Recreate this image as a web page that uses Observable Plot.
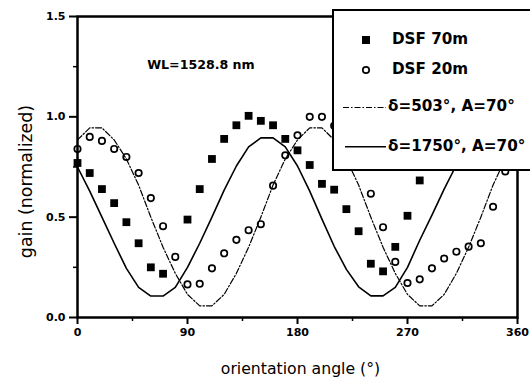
<!DOCTYPE html>
<html>
<head>
<meta charset="utf-8">
<script src="https://cdn.jsdelivr.net/npm/d3@7"></script>
<script src="https://cdn.jsdelivr.net/npm/@observablehq/plot@0.6"></script>
<style>
  body { margin: 0; background: #fff; }
  svg { display: block; }
</style>
</head>
<body>
<div id="chart"></div>
<script>
// ---- data ----
const angles70 = [0,10,20,30,40,50,60,70,90,100,110,120,130,140,150,160,170,180,190,200,210,220,230,240,250,260,270,280];
const dsf70    = [0.77,0.72,0.64,0.57,0.475,0.37,0.25,0.218,0.488,0.64,0.79,0.89,0.958,1.005,0.98,0.958,0.89,0.833,0.76,0.666,0.637,0.54,0.43,0.268,0.23,0.352,0.507,0.683];

const angles20 = [0,10,20,30,40,50,60,70,80,90,100,110,120,130,140,150,160,170,180,190,200,210,240,250,260,270,280,290,300,310,320,330,340,350];
const dsf20    = [0.84,0.90,0.88,0.84,0.80,0.72,0.595,0.455,0.302,0.165,0.168,0.245,0.32,0.387,0.435,0.465,0.657,0.808,0.908,1.0,1.0,0.955,0.617,0.45,0.277,0.172,0.19,0.245,0.294,0.328,0.353,0.37,0.552,0.728];

const curveAngles = [0,10,20,30,40,50,60,70,80,90,100,110,120,130,140,150,160,170,180,190,200,210,220,230,240,250,260,270,280,290,300,310,320,330,340,350,360];
const delta503  = [0.885,0.945,0.945,0.885,0.79,0.66,0.5,0.35,0.22,0.115,0.058,0.058,0.115,0.22,0.35,0.5,0.66,0.79,0.885,0.945,0.945,0.885,0.79,0.66,0.5,0.35,0.22,0.115,0.058,0.058,0.115,0.22,0.35,0.5,0.66,0.79,0.885];
const delta1750 = [0.75,0.63,0.50,0.37,0.245,0.15,0.107,0.107,0.15,0.25,0.37,0.50,0.635,0.755,0.85,0.895,0.895,0.85,0.755,0.63,0.49,0.355,0.24,0.153,0.108,0.108,0.15,0.25,0.385,0.51,0.64,0.76];

const xTicks = [0, 90, 180, 270, 360];
const xMinorTicks = [45, 135, 225, 315];
const yTicks = [0, 0.5, 1.0, 1.5];
const yMinorTicks = [0.25, 0.75, 1.25];

const legendLabels = ["DSF 70m", "DSF 20m", "\u03b4=503\u00b0, A=70\u00b0", "\u03b4=1750\u00b0, A=70\u00b0"];
const annotation = "WL=1528.8 nm";
const xLabel = "orientation angle (\u00b0)";
const yLabel = "gain (normalized)";

// ---- tables ----
const rows70 = angles70.map((a, i) => ({angle: a, gain: dsf70[i]}));
const rows20 = angles20.map((a, i) => ({angle: a, gain: dsf20[i]}));
const rows503 = curveAngles.map((a, i) => ({angle: a, gain: delta503[i]}));
const rows1750 = delta1750.map((g, i) => ({angle: curveAngles[i], gain: g}));

const dashDot = "6,2,1.5,2";

const plot = Plot.plot({
  width: 530,
  height: 377,
  marginLeft: 77,
  marginRight: 13,
  marginTop: 16,
  marginBottom: 60,
  x: {domain: [0, 360]},
  y: {domain: [0, 1.5]},
  style: {fontFamily: "DejaVu Sans", background: "white", color: "black", overflow: "visible"},
  marks: [
    Plot.line(rows503, {x: "angle", y: "gain", stroke: "black", strokeWidth: 1.2, strokeDasharray: dashDot}),
    Plot.line(rows1750, {x: "angle", y: "gain", stroke: "black", strokeWidth: 1.6}),
    Plot.dot(rows70, {x: "angle", y: "gain", symbol: "square", r: 4.4, fill: "black", stroke: "none"}),
    Plot.dot(rows20, {x: "angle", y: "gain", symbol: "circle", r: 3.2, fill: "none", stroke: "black", strokeWidth: 1.7}),
    Plot.frame({stroke: "black", strokeWidth: 2.5}),
    Plot.axisX(xTicks, {tickSize: 7, tickPadding: 4, strokeWidth: 2, fontSize: 11, fontWeight: "bold", label: null}),
    Plot.axisX(xMinorTicks, {tickSize: 4, strokeWidth: 1.5, fill: "none", label: null}),
    Plot.axisY(yTicks, {tickSize: 8, tickPadding: 4, strokeWidth: 2, fontSize: 11, fontWeight: "bold", tickFormat: d3.format(".1f"), label: null}),
    Plot.axisY(yMinorTicks, {tickSize: 4, strokeWidth: 1.5, fill: "none", label: null}),
    Plot.text([{angle: 57, gain: 1.26, label: annotation}], {x: "angle", y: "gain", text: "label", textAnchor: "start", fontSize: 12.6, fontWeight: "bold"}),
    Plot.text([xLabel], {frameAnchor: "bottom", textAnchor: "middle", lineAnchor: "middle", dx: 3, dy: 51, fontSize: 15.7}),
    Plot.text([yLabel], {frameAnchor: "left", textAnchor: "middle", lineAnchor: "middle", dx: -51.5, dy: 14.5, rotate: -90, fontSize: 17.4})
  ]
});

// ---- legend box (overlays the top-right of the plot) ----
const svg = d3.select(plot);
const lg = svg.append("g")
  .attr("font-family", "DejaVu Sans")
  .attr("font-weight", "bold")
  .attr("font-size", 15.2)
  .attr("text-anchor", "start")
  .attr("fill", "black");
lg.append("rect")
  .attr("x", 333).attr("y", 10).attr("width", 215).attr("height", 160)
  .attr("fill", "white").attr("stroke", "black").attr("stroke-width", 2);
// entry 1: filled square
lg.append("rect").attr("x", 362).attr("y", 36).attr("width", 8).attr("height", 8).attr("fill", "black");
lg.append("text").attr("x", 392).attr("y", 44).attr("text-anchor", "start").text(legendLabels[0]);
// entry 2: open circle
lg.append("circle").attr("cx", 366).attr("cy", 70).attr("r", 3.2)
  .attr("fill", "none").attr("stroke", "black").attr("stroke-width", 1.7);
lg.append("text").attr("x", 392).attr("y", 74).attr("text-anchor", "start").text(legendLabels[1]);
// entry 3: dash-dot line
lg.append("line").attr("x1", 343).attr("x2", 386).attr("y1", 107.5).attr("y2", 107.5)
  .attr("stroke", "black").attr("stroke-width", 1.2).attr("stroke-dasharray", dashDot);
lg.append("text").attr("x", 388).attr("y", 110.7).attr("text-anchor", "start").text(legendLabels[2]);
// entry 4: solid line
lg.append("line").attr("x1", 345).attr("x2", 386).attr("y1", 146.7).attr("y2", 146.7)
  .attr("stroke", "black").attr("stroke-width", 1.6);
lg.append("text").attr("x", 388).attr("y", 150.7).attr("text-anchor", "start").text(legendLabels[3]);

document.getElementById("chart").appendChild(plot);
</script>
</body>
</html>
